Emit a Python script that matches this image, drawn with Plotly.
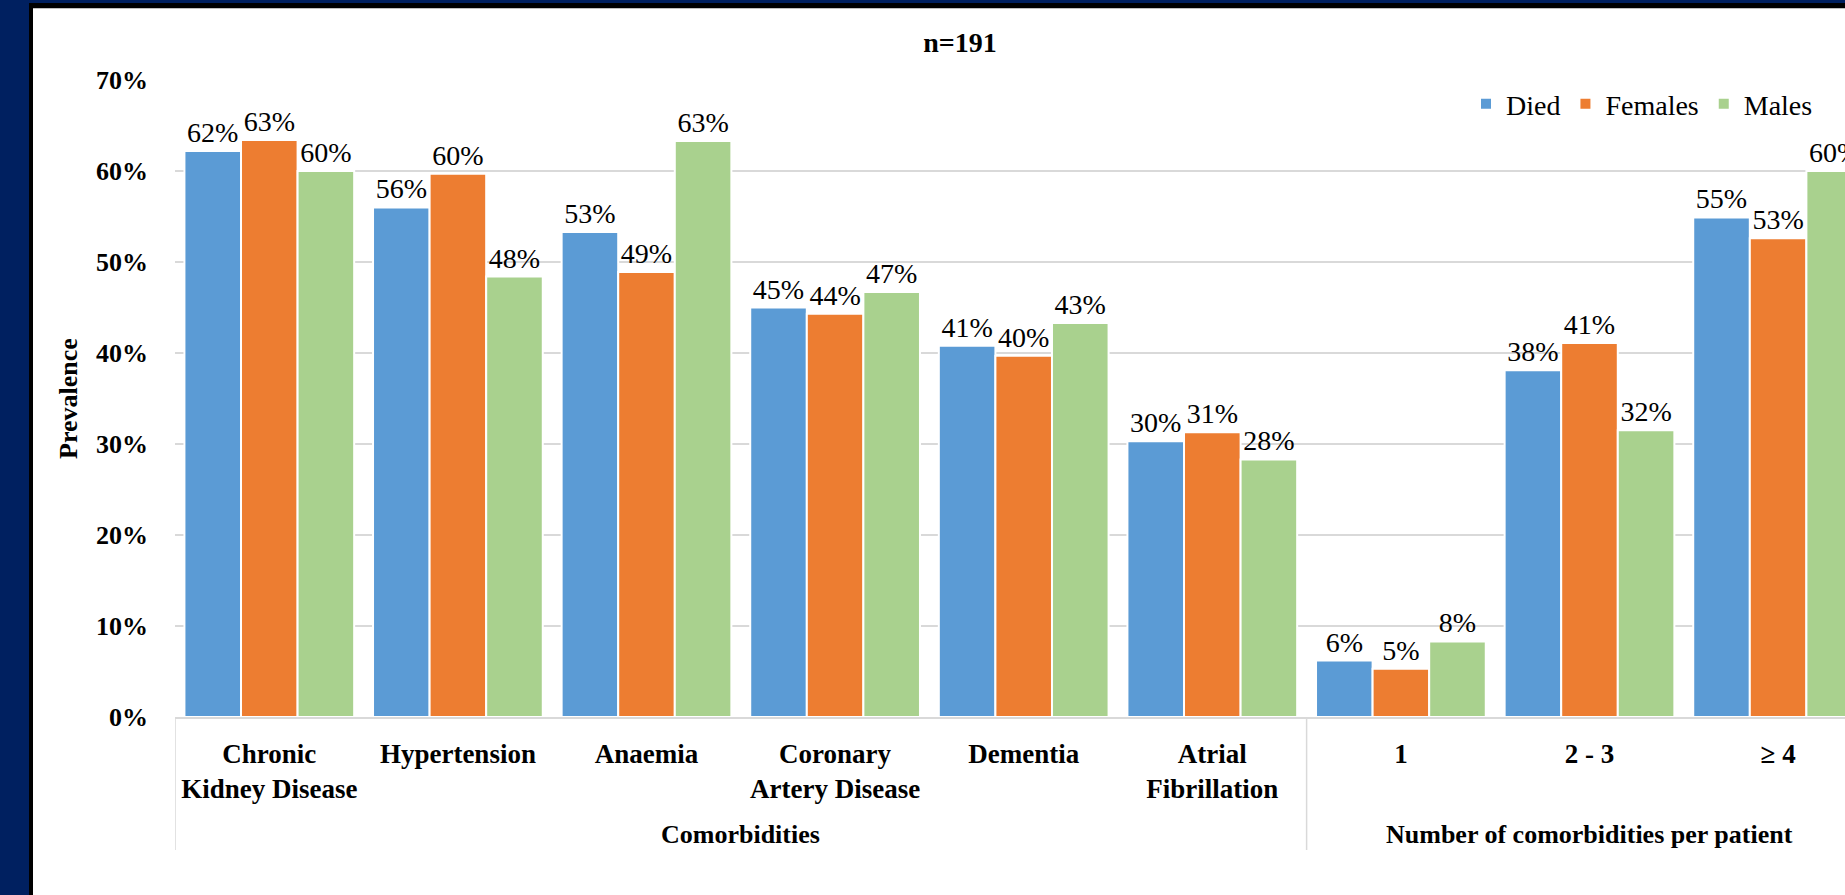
import plotly.graph_objects as go

# ---------------- data ----------------
categories = ["Chronic<br>Kidney Disease", "Hypertension", "Anaemia",
              "Coronary<br>Artery Disease", "Dementia", "Atrial<br>Fibrillation",
              "1", "2 - 3", "\u2265 4"]
group_labels = ["Comorbidities", "Number of comorbidities per patient"]
group_sizes = [6, 3]

died = [0.622, 0.560, 0.533, 0.450, 0.408, 0.303, 0.062, 0.381, 0.549]
females = [0.634, 0.597, 0.489, 0.443, 0.397, 0.313, 0.053, 0.411, 0.526]
males = [0.600, 0.484, 0.633, 0.467, 0.433, 0.283, 0.083, 0.315, 0.600]

series_names = ["Died", "Females", "Males"]
series_colors = ["#5B9BD5", "#ED7D31", "#A9D18E"]

y_ticks = [0, 0.1, 0.2, 0.3, 0.4, 0.5, 0.6, 0.7]

# ---------------- layout constants ----------------
W, H = 1845, 895
ML, MR, MT, MB = 175, 0, 80, 178
PW, PH = W - ML - MR, H - MT - MB
CAT_W = 188.6  # px per category in reference
FONT = "Liberation Serif"
NAVY = "#002060"


def px_x(px):
    return (px - ML) / PW


def px_y(py):
    return (H - MB - py) / PH


fig = go.Figure()
for name, vals, col in zip(series_names, [died, females, males], series_colors):
    fig.add_trace(go.Bar(
        name=name, x=categories, y=vals,
        marker=dict(color=col, line=dict(color="white", width=2)),
        text=vals, texttemplate="%{y:.0%}", textposition="outside",
        textfont=dict(family=FONT, size=28, color="black"),
        cliponaxis=False, constraintext="none",
    ))

shapes = []
# slide background frame
shapes.append(dict(type="rect", xref="paper", yref="paper", x0=px_x(0), x1=px_x(29),
                   y0=px_y(H), y1=px_y(0), fillcolor=NAVY, line_width=0, layer="below"))
shapes.append(dict(type="rect", xref="paper", yref="paper", x0=px_x(0), x1=px_x(W),
                   y0=px_y(3), y1=px_y(0), fillcolor=NAVY, line_width=0, layer="below"))
shapes.append(dict(type="rect", xref="paper", yref="paper", x0=px_x(29), x1=px_x(33),
                   y0=px_y(H), y1=px_y(3), fillcolor="black", line_width=0, layer="below"))
shapes.append(dict(type="rect", xref="paper", yref="paper", x0=px_x(29), x1=px_x(W),
                   y0=px_y(8), y1=px_y(3), fillcolor="black", line_width=0, layer="below"))
shapes.append(dict(type="line", xref="paper", yref="paper", x0=px_x(33), x1=px_x(W),
                   y0=px_y(8.5), y1=px_y(8.5), line=dict(color="#bfbfbf", width=1), layer="below"))

# group dividers under the axis
div_y1 = px_y(850)
start = 0
bounds = [-0.5]
for s in group_sizes:
    start += s
    bounds.append(start - 0.5)
for b in bounds:
    shapes.append(dict(type="line", xref="x", yref="paper", x0=b, x1=b, y0=0, y1=div_y1,
                       line=dict(color="#d9d9d9", width=1.5)))

annotations = []
start = 0
for lab, s in zip(group_labels, group_sizes):
    center = start + (s - 1) / 2
    annotations.append(dict(text=lab, xref="x", yref="paper", x=center, y=px_y(834),
                            xanchor="center", yanchor="middle", showarrow=False,
                            font=dict(family=FONT, size=26, color="black", weight="bold")))
    start += s

fig.update_layout(
    width=W, height=H,
    margin=dict(l=ML, r=MR, t=MT, b=MB, autoexpand=False),
    paper_bgcolor="white", plot_bgcolor="white",
    barmode="group", bargap=0.1, bargroupgap=0,
    font=dict(family=FONT, color="black"),
    title=dict(text="n=191", x=960 / W, xanchor="center", y=1 - 42 / H, yanchor="middle",
               yref="container", font=dict(family=FONT, size=28, color="black", weight="bold")),
    legend=dict(orientation="h", x=px_x(1466), xanchor="left", y=px_y(104), yanchor="middle",
                font=dict(family=FONT, size=28, color="black"), bgcolor="rgba(0,0,0,0)",
                traceorder="normal"),
    xaxis=dict(type="category", range=[-0.5, -0.5 + PW / CAT_W], showgrid=False,
               showline=True, linecolor="#d9d9d9", linewidth=1.5, ticks="",
               tickfont=dict(family=FONT, size=27, color="black", weight="bold"),
               ticklabelstandoff=12, automargin=False, fixedrange=True),
    yaxis=dict(range=[0, 0.7], tickvals=y_ticks, tickformat=".0%", showgrid=True,
               gridcolor="#d9d9d9", gridwidth=1.5, zeroline=False, showline=False,
               tickfont=dict(family=FONT, size=26, color="black", weight="bold"),
               ticklabelstandoff=26, automargin=False,
               title=dict(text="Prevalence", standoff=10,
                          font=dict(family=FONT, size=26, color="black", weight="bold"))),
    shapes=shapes, annotations=annotations,
)

fig.write_html("out.html")
